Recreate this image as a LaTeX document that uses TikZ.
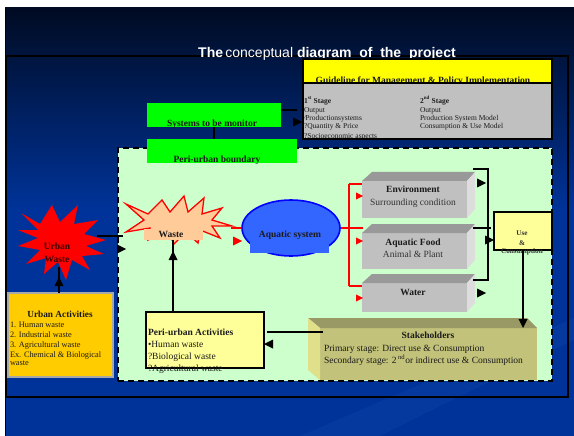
\documentclass[tikz,border=0pt]{standalone}
\usepackage{fontspec}
\setmainfont{Liberation Serif}
\newfontfamily\titlefont{Liberation Sans}
\usetikzlibrary{shapes.geometric}
\definecolor{navytop}{HTML}{000B22}
\definecolor{navy}{HTML}{003399}
\definecolor{streak}{HTML}{0A3DA2}
\definecolor{paleg}{HTML}{CCFFCC}
\definecolor{brightg}{HTML}{00FF00}
\definecolor{guideY}{HTML}{FFFF00}
\definecolor{greybox}{HTML}{C0C0C0}
\definecolor{greytop}{HTML}{999999}
\definecolor{greyside}{HTML}{DDDDDD}
\definecolor{paley}{HTML}{FFFF99}
\definecolor{orangeY}{HTML}{FFCC00}
\definecolor{uaborder}{HTML}{A8A8A8}
\definecolor{peach}{HTML}{FFCC99}
\definecolor{aqua}{HTML}{3366FF}
\definecolor{olivetop}{HTML}{999966}
\definecolor{olivefront}{HTML}{C2C27A}
\definecolor{oliveside}{HTML}{E0E08A}
\definecolor{txt}{HTML}{1A1A1A}
\definecolor{txtgrey}{HTML}{333333}
\definecolor{darkred}{HTML}{3A0000}
\newcommand\tipR[4]{\fill[#1] (#3,#4) -- ++(-#2,-#2/2) -- ++(0,#2) -- cycle;}
\newcommand\tipL[4]{\fill[#1] (#3,#4) -- ++(#2,-#2/2) -- ++(0,#2) -- cycle;}
\newcommand\tipU[4]{\fill[#1] (#3,#4) -- ++(-#2/2,#2) -- ++(#2,0) -- cycle;}
\newcommand\tipD[4]{\fill[#1] (#3,#4) -- ++(-#2/2,-#2) -- ++(#2,0) -- cycle;}
\newcommand\gbox[5]{%
  \node[box, fill=greybox, minimum width=#4, minimum height=#5] (#1) at (#2,#3) {};
  \fill[greytop] (#1.north west) -- ++(10,-9) -- ([shift={(8,-9)}]#1.north east) -- (#1.north east) -- cycle;
  \fill[greyside] (#1.north east) -- ++(8,-9) -- ([shift={(8,-9)}]#1.south east) -- (#1.south east) -- cycle;}
\begin{document}
\begin{tikzpicture}[x=1pt,y=-1pt,
  box/.style={inner sep=0, outer sep=0, anchor=north west, draw=none},
  lbl/.style={inner sep=0, outer sep=0, anchor=base, text=txt},
  lblw/.style={lbl, anchor=base west},
  fb/.style={font=\fontsize{9.5}{11}\selectfont\bfseries},
  fr/.style={font=\fontsize{9.5}{11}\selectfont},
  fs/.style={font=\fontsize{7.5}{9}\selectfont},
  fsb/.style={font=\fontsize{7.5}{9}\selectfont\bfseries},
  fu/.style={font=\fontsize{8.3}{10}\selectfont},
  conn/.style={line width=1.5pt, draw=black},
  rconn/.style={line width=1.5pt, draw=red}]
\useasboundingbox (0,0) rectangle (574,436);
% background
\fill[white] (0,0) rectangle (574,436);
\shade[top color=navytop, bottom color=navy] (5,8) rectangle (574,210);
\fill[navy] (5,209.5) rectangle (574,436);
\fill[streak, opacity=0.6] (300,436) -- (574,318) -- (574,340) -- (380,436) -- cycle;
\draw[line width=1.5pt] (5.5,8) -- (5.5,436);
\draw[line width=1.5pt] (6,56) rectangle (568,397);
% title
\node[inner sep=0, anchor=base west, text=white, font=\titlefont\fontsize{14}{16}\selectfont] (title) at (198,58)
  {\textbf{The}\,conceptual\ \textbf{diagram\ \ of\ \ the\ \ project}};
% peri-urban dashed region
\node[box, draw=black, line width=1.5pt, dash pattern=on 6pt off 4pt, fill=paleg, minimum width=434, minimum height=233] (peri) at (118,148) {};
% guideline box
\node[box, fill=guideY, minimum width=249, minimum height=24] (gy) at (303,59) {};
\node[lbl, fb] (gytext) at (423,84) {Guideline for Management \& Policy Implementation};
\node[box, fill=greybox, minimum width=249, minimum height=56] (gg) at (303,83) {};
\begin{scope}
\clip (gg.north west) rectangle (gg.south east);
\node[lblw, fsb] (s1) at (304,103) {1\textsuperscript{\tiny st} Stage};
\node[lblw, fs] (s1a) at (304,113) {Output};
\node[lblw, fs] (s1b) at (304,121) {⁄Productionsystems};
\node[lblw, fs] (s1c) at (304,129) {?Quantity \& Price};
\node[lblw, fs] (s1d) at (304,139) {?Socioeconomic aspects};
\node[lblw, fsb] (s2) at (420,103) {2\textsuperscript{\tiny nd} Stage};
\node[lblw, fs] (s2a) at (420,113) {Output};
\node[lblw, fs] (s2b) at (420,121) {Production System Model};
\node[lblw, fs] (s2c) at (420,129) {Consumption \& Use Model};
\end{scope}
\draw[line width=2pt] (gy.north west) rectangle (gg.south east);
\draw[line width=1.5pt] (gy.south west) -- (gy.south east);
% green boxes
\node[box, fill=brightg, minimum width=134, minimum height=24] (sys) at (147,103) {};
\node[lbl, fb] at (212,127) {Systems to be monitor};
\node[box, fill=brightg, minimum width=150, minimum height=24] (pbd) at (147,139) {};
\node[lbl, fb] at (217,163) {Peri-urban boundary};
\draw[conn] (sys.east |- 0,110) -- (297,110);
\tipR{black}{9}{302}{122}
\draw[conn] (sys.south -| 214,0) -- (pbd.north -| 214,0);
% urban waste star
\fill[red, shift={(62,242)}] (-41,-29) -- (-22,-18) -- (-10,-37) -- (-2,-20) -- (16,-37) -- (12,-18) -- (36,-22) -- (22,-8) -- (44,-2) -- (24,4) -- (42,12) -- (20,14) -- (28,28) -- (10,18) -- (4,38) -- (-4,20) -- (-18,32) -- (-16,16) -- (-36,22) -- (-22,8) -- (-44,4) -- (-24,-4) -- (-44,-12) -- (-24,-12) -- cycle;
\node[inner sep=0, align=center, text=darkred, font=\fontsize{9.5}{13}\selectfont\bfseries] (uw) at (57,253) {Urban\\Waste};
\draw[conn] (97,236) -- (123,236);
\tipR{black}{9}{126}{249}
% waste star
\draw[red, line width=1.3pt, fill=peach, shift={(178,220)}] (-52,-16) -- (-30,-6) -- (-16,-20) -- (-8,-8) -- (6,-24) -- (10,-8) -- (26,-22) -- (24,-6) -- (44,-12) -- (34,0) -- (54,6) -- (34,6) -- (42,18) -- (22,10) -- (20,23) -- (8,12) -- (-4,24) -- (-10,12) -- (-30,20) -- (-28,8) -- (-52,12) -- (-34,0) -- cycle;
\fill[peach] (144,229) rectangle (203,240);
\node[lbl, fb] (waste) at (171,237) {Waste};
% aquatic system
\node[ellipse, draw=blue, line width=1.6pt, fill=aqua, minimum width=98, minimum height=56, inner sep=0] (aq) at (291,228) {};
\fill[aqua] (250,240) rectangle (329,253);
\node[lbl, fb] (aqt) at (290,237) {Aquatic system};
\draw[rconn] (231,228) -- (aq.west);
\tipR{red}{9}{242}{241}
% red bracket
\draw[rconn] (aq.east) -- (349,228);
\draw[rconn] (349,184) -- (349,286);
\draw[rconn] (349,184) -- (363,184);
\draw[rconn] (349,228) -- (363,228);
\draw[rconn] (349,286) -- (363,286);
% 3d grey boxes
\gbox{env}{362}{181}{105}{37}
\gbox{food}{362}{233}{105}{36}
\gbox{water}{362}{283}{105}{29}
\tipR{red}{7}{363}{196}
\tipR{red}{7}{363}{241}
\tipR{red}{7}{363}{298}
\node[lbl, fb] at (413,193) {Environment};
\node[lbl, fr, text=txtgrey] at (413,205) {Surrounding condition};
\node[lbl, fb] at (413,245) {Aquatic Food};
\node[lbl, fr, text=txtgrey] at (413,257) {Animal \& Plant};
\node[lbl, fb] at (413,295) {Water};
% black bracket to use
\draw[conn] (473,169) -- (488,169) -- (488,280) -- (473,280);
\draw[conn] (473,228) -- (491,228);
\tipR{black}{9}{486}{183}
\tipR{black}{9}{494}{240}
\tipR{black}{9}{486}{293}
% use & consumption
\node[box, draw=black, line width=1.5pt, fill=paley, minimum width=58, minimum height=38] (use) at (494,212) {};
\node[lbl, font=\fontsize{7.2}{8}\selectfont\bfseries, text=txtgrey] at (522,235) {Use};
\node[lbl, font=\fontsize{7.2}{8}\selectfont\bfseries, text=txtgrey] at (522,245) {\&};
\node[lbl, font=\fontsize{7.2}{8}\selectfont\bfseries, text=txtgrey] at (522,254) {Consumption};
% stakeholders
\node[box, fill=olivefront, minimum width=217, minimum height=52] (sh) at (320,328) {};
\fill[olivetop] (sh.north west) -- ++(-12,-10) -- ([shift={(-10,-10)}]sh.north east) -- (sh.north east) -- cycle;
\fill[oliveside] (sh.north west) -- ++(-12,-10) -- ([shift={(-12,-10)}]sh.south west) -- (sh.south west) -- cycle;
\node[lbl, fb] at (428,338) {Stakeholders};
\node[lblw, fr] at (324,351) {Primary stage: Direct use \& Consumption};
\node[lblw, fr] at (324,363) {Secondary stage: 2\,\textsuperscript{nd}or indirect use \& Consumption};
\draw[conn] (use.south -| 523,0) -- (523,320);
\tipD{black}{9}{523}{328}
% peri-urban activities
\node[box, draw=black, line width=1.5pt, fill=paley, minimum width=118, minimum height=56] (pua) at (146,312) {};
\node[lblw, fb] at (148,335) {Peri-urban Activities};
\node[lblw, fr] at (148,347) {•Human waste};
\node[lblw, fr] at (148,359) {?Biological waste};
\node[lblw, fr] at (148,371) {?Agricultural waste};
\draw[conn] (267,332) -- (323,332);
\tipL{black}{9}{264}{344}
\draw[conn] (pua.north -| 173,0) -- (173,240);
\tipU{black}{9}{173}{251}
% urban activities
\node[box, draw=uaborder, line width=1.5pt, fill=orangeY, minimum width=105, minimum height=84] (ua) at (8,293) {};
\node[lbl, font=\fontsize{9.3}{11}\selectfont\bfseries] at (60,317) {Urban Activities};
\node[lblw, fu] at (10,327) {1. Human waste};
\node[lblw, fu] at (10,337) {2. Industrial waste};
\node[lblw, fu] at (10,347) {3. Agricultural waste};
\node[lblw, fu] at (10,357) {Ex. Chemical \& Biological};
\node[lblw, fu] at (10,365) {waste};
\draw[conn] (ua.north -| 59,0) -- (59,267);
\tipU{black}{9}{59}{277}
\end{tikzpicture}
\end{document}
